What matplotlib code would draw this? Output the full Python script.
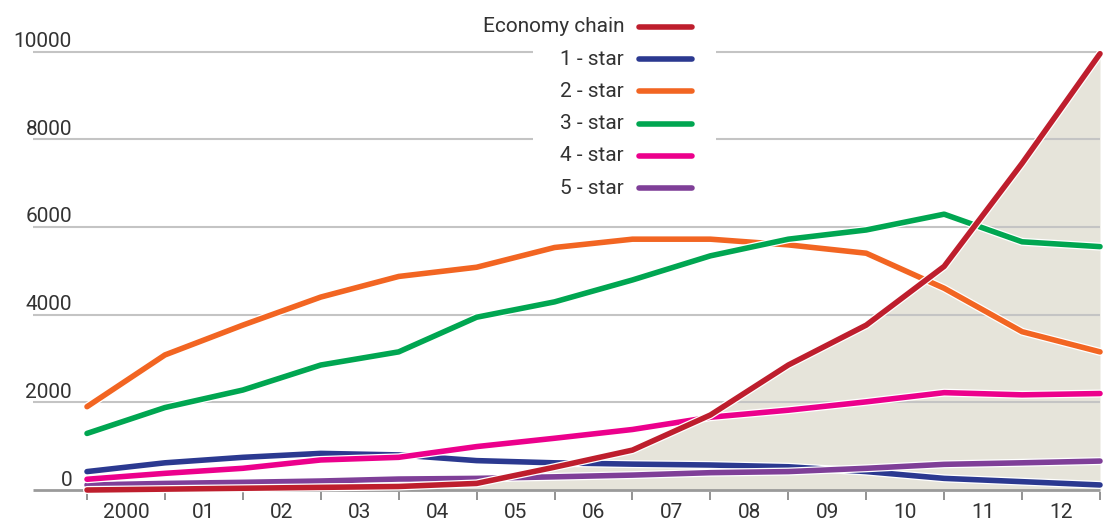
import matplotlib
matplotlib.use("Agg")
import matplotlib.pyplot as plt
import matplotlib.patheffects as pe
import numpy as np

plt.rcParams["font.family"] = ["Roboto", "DejaVu Sans"]

# hotel counts by category, one value per year boundary
years = np.arange(14)
year_labels = ["2000", "01", "02", "03", "04", "05", "06",
               "07", "08", "09", "10", "11", "12"]

economy = [0, 20, 40, 60, 80, 150, 520, 910, 1710, 2850, 3760, 5100, 7450, 9950]
one_star = [420, 620, 745, 835, 800, 670, 620, 590, 570, 530, 420, 265, 190, 115]
two_star = [1900, 3080, 3760, 4400, 4870, 5080, 5530, 5720, 5720, 5590, 5400, 4600, 3610, 3150]
three_star = [1290, 1880, 2280, 2850, 3150, 3940, 4290, 4790, 5340, 5720, 5930, 6290, 5660, 5550]
four_star = [245, 380, 495, 685, 745, 990, 1180, 1380, 1660, 1820, 2010, 2220, 2170, 2200]
five_star = [115, 150, 175, 205, 250, 265, 300, 340, 395, 420, 495, 585, 620, 660]

series_names = ["Economy chain", "1 - star", "2 - star", "3 - star", "4 - star", "5 - star"]
series_values = [economy, one_star, two_star, three_star, four_star, five_star]
series_colors = ["#BE1E2D", "#2B3990", "#F26522", "#00A651", "#EC008C", "#7F3F98"]
# drawing order, bottom to top
draw_order = [1, 5, 4, 2, 3, 0]

y_ticks = [0, 2000, 4000, 6000, 8000, 10000]
text_color = "#333333"

W, H = 1103, 523
fig = plt.figure(figsize=(W / 100, H / 100), dpi=100)
ax = fig.add_axes([0, 0, 1, 1])
ax.set_axis_off()

px_per_year = (1100 - 87) / 13
ax.set_xlim(-87 / px_per_year, (W - 87) / px_per_year)
px_per_unit = (490 - 51.5) / 10000
ax.set_ylim(-(H - 490) / px_per_unit, 490 / px_per_unit)

x_left = (33 - 87) / px_per_year

# shaded area under the economy chain line
ax.fill_between(years, 0, economy, color="#E6E4DA", lw=0, zorder=1)

# horizontal grid and baseline
for v in y_ticks:
    if v == 0:
        ax.hlines(v, x_left, 13, color="#9a9a9a", lw=2.0, zorder=2)
    else:
        ax.hlines(v, x_left, 13, color="#c4c4c4", lw=1.5, zorder=2)
    ax.text(-15 / px_per_year, v + 4.5 / px_per_unit, str(v), ha="right",
            va="baseline", fontsize=15, color=text_color)

# year separators and labels
ax.vlines(years, -50, -230, color="#8a8a8a", lw=1.3, zorder=2)
for i, lab in enumerate(year_labels):
    ax.text(i + 0.5, -23 / px_per_unit, lab, ha="center", va="center",
            fontsize=15, color=text_color)

for k, idx in enumerate(draw_order):
    ax.plot(years, series_values[idx], color=series_colors[idx], lw=4.0,
            solid_joinstyle="round", solid_capstyle="round", zorder=3 + k,
            path_effects=[pe.Stroke(linewidth=5.8, foreground="white"), pe.Normal()])

# legend block with white backing
ax.add_patch(plt.Rectangle((533 / W, 1 - 205 / H), (716 - 533) / W, 205 / H,
                           transform=ax.transAxes, facecolor="white",
                           edgecolor="none", zorder=2.5))
row_y0, row_step = 27, 32.2
for i, (name, col) in enumerate(zip(series_names, series_colors)):
    ypx = row_y0 + i * row_step
    yf = 1 - ypx / H
    ax.text(624 / W, yf, name, transform=ax.transAxes, ha="right", va="center",
            fontsize=15, color=text_color, zorder=20)
    ax.plot([639 / W, 692 / W], [yf, yf], transform=ax.transAxes, color=col,
            lw=4.0, solid_capstyle="round", zorder=20)

fig.savefig("out.png", dpi=100)
